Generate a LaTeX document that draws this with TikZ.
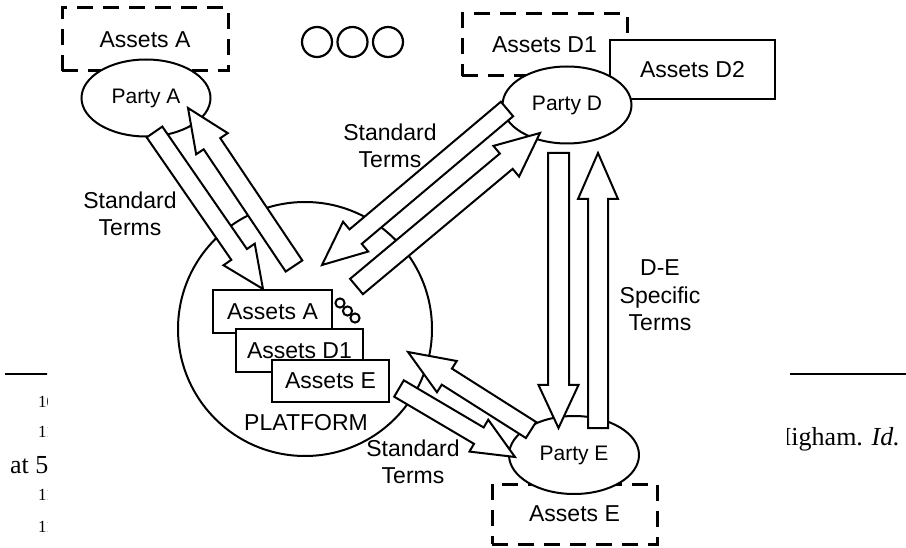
\documentclass[tikz,border=0pt]{standalone}
\usepackage{fontspec}
\setmainfont{Liberation Sans}
\newfontfamily\pagefont{Liberation Serif}
\usetikzlibrary{calc,shapes.geometric}

\tikzset{
  lbl/.style={font=\fontsize{23}{27.5}\selectfont, align=center, inner sep=0pt},
  party/.style={ellipse, draw, line width=2pt, fill=white, inner sep=0pt,
    minimum width=129pt, minimum height=77pt, font=\fontsize{21}{25}\selectfont},
  dashbox/.style={draw, line width=3pt, dash pattern=on 16pt off 10pt, inner sep=0pt,
    font=\fontsize{23}{27}\selectfont},
  solidbox/.style={draw, line width=2.8pt, fill=white, inner sep=0pt,
    font=\fontsize{23}{27}\selectfont},
  fat/.style={draw, line width=2pt, fill=white, line join=miter},
  pagetxt/.style={inner sep=0pt, font=\pagefont\fontsize{26}{26}\selectfont},
  notetxt/.style={inner sep=0pt, font=\pagefont\fontsize{17}{17}\selectfont},
}

% block arrow: tail, tip, shaft half width, head half width, head length
\newcommand{\fatarrow}[5]{%
  \coordinate (fab) at ($(#2)!#5!(#1)$);
  \draw[fat] ($(#1)!#3!90:(#2)$) -- ($(fab)!#3!90:(#2)$) -- ($(fab)!#4!90:(#2)$)
    -- (#2) -- ($(fab)!#4!-90:(#2)$) -- ($(fab)!#3!-90:(#2)$)
    -- ($(#1)!#3!-90:(#2)$) -- cycle;
}

\begin{document}
\begin{tikzpicture}[x=1pt,y=-1pt]
\useasboundingbox (0,0) rectangle (906,548);

% remnants of the surrounding page
\begin{scope}
  \clip (0,0) rectangle (47,548);
  \draw[line width=1.6pt] (5,374) -- (60,374);
  \node[notetxt, anchor=base west] (n1) at (38,407) {10};
  \node[notetxt, anchor=base west] (n2) at (38,437) {11};
  \node[pagetxt, anchor=base west] (n3) at (10,473) {at 59};
  \node[notetxt, anchor=base west] (n4) at (38,500) {11};
  \node[notetxt, anchor=base west] (n5) at (38,532) {11};
\end{scope}
\begin{scope}
  \clip (787,0) rectangle (906,548);
  \draw[line width=1.6pt] (790,374) -- (906,374);
  \node[pagetxt, anchor=base east] (n6) at (900,446) {Higham. \textit{Id.}};
\end{scope}

% platform with the pooled assets
\node[circle, draw, line width=2pt, fill=white, minimum size=254pt, inner sep=0pt] (plat) at (305,329) {};
\node[solidbox, minimum width=119pt, minimum height=43pt] (inA) at (272.5,311.5) {Assets A};
\node[solidbox, minimum width=127pt, minimum height=43pt] (inD) at (299.5,350.5) {Assets D1};
\node[solidbox, minimum width=117pt, minimum height=42pt] (inE) at (330.5,381) {Assets E};
\node[lbl] (platlbl) at (306,423) {PLATFORM};
\foreach \p/\q in {340/303, 347.5/311, 355/318}
  \draw[line width=2pt] (\p,\q) circle (4.6);

% three further parties
\foreach \cx in {317,352.5,388}
  \draw[line width=2.2pt] (\cx,42) ellipse (15 and 15);

% assets held by the parties
\node[dashbox, minimum width=166pt, minimum height=63pt] (boxA) at (145,39.5) {Assets A};
\node[dashbox, minimum width=165pt, minimum height=62pt] (boxD1) at (544.5,45) {Assets D1};
\node[solidbox, minimum width=165pt, minimum height=59pt] (boxD2) at (692.5,69.5) {Assets D2};
\node[dashbox, minimum width=165pt, minimum height=60pt] (boxE) at (574.5,514) {Assets E};

% parties
\node[party] (pA) at (146,98) {Party A};
\node[party] (pD) at (567,105) {Party D};
\node[party, minimum width=130pt, minimum height=78pt] (pE) at (574,455) {Party E};

% arrow end points
\coordinate (a1t) at (154.5,132);  \coordinate (a1h) at (263,289);
\coordinate (a2t) at (294,266);    \coordinate (a2h) at (188,108);
\coordinate (d1t) at (507,109);    \coordinate (d1h) at (322,265);
\coordinate (d2t) at (356.5,286.5);\coordinate (d2h) at (540,133);
\coordinate (e1t) at (531,430);    \coordinate (e1h) at (408,352);
\coordinate (e2t) at (399,388.5);  \coordinate (e2h) at (515,457);
\coordinate (v1t) at (558.5,153);  \coordinate (v1h) at (558.5,428);
\coordinate (v2t) at (598,428);    \coordinate (v2h) at (598,153);

% terms exchanged
\fatarrow{a1t}{a1h}{9.5pt}{19pt}{42pt}
\fatarrow{a2t}{a2h}{10pt}{19pt}{43pt}
\fatarrow{d1t}{d1h}{9.5pt}{19.5pt}{44pt}
\fatarrow{d2t}{d2h}{10pt}{20pt}{44pt}
\fatarrow{e1t}{e1h}{9.5pt}{18.5pt}{46pt}
\fatarrow{e2t}{e2h}{9.5pt}{18.5pt}{42pt}
\fatarrow{v1t}{v1h}{10.5pt}{20pt}{43pt}
\fatarrow{v2t}{v2h}{10pt}{20pt}{46pt}

% labels
\node[lbl] (stA) at (130,214) {Standard\\Terms};
\node[lbl] (stD) at (390,146) {Standard\\Terms};
\node[lbl] (stDE) at (660,295.5) {D-E\\Specific\\Terms};
\node[lbl] (stE) at (413,462) {Standard\\Terms};
\end{tikzpicture}
\end{document}
